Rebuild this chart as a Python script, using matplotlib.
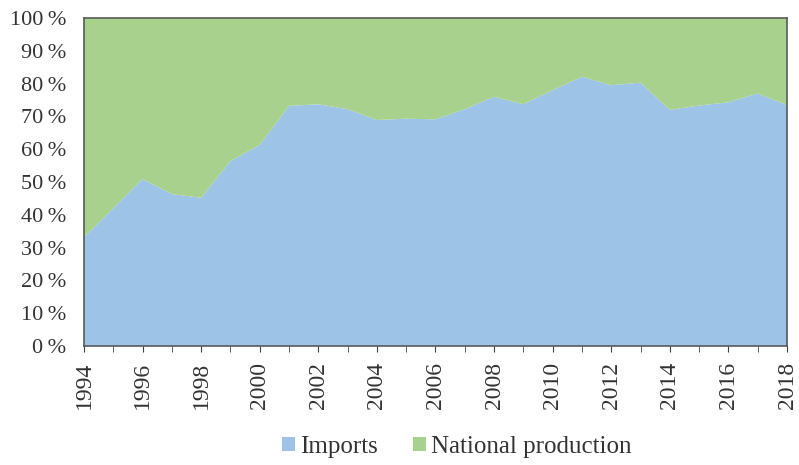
import matplotlib
matplotlib.use("Agg")
import matplotlib.pyplot as plt
import numpy as np

years = list(range(1994, 2019))
imports = [33.1, 42.0, 50.9, 46.3, 45.2, 56.4, 61.3, 73.2, 73.7, 72.2, 68.9, 69.3, 69.1,
           72.2, 76.0, 73.7, 78.0, 82.1, 79.5, 80.3, 72.0, 73.3, 74.3, 77.0, 73.5]
national = [100 - v for v in imports]
labels = ["Imports", "National production"]
colors = ["#9DC3E6", "#A9D18E"]

plt.rcParams['font.family'] = ['Liberation Serif', 'DejaVu Serif']

fig = plt.figure(figsize=(7.99, 4.65), dpi=100)
ax = fig.add_axes([0.1051, 0.2559, 0.8799, 0.7054])

ax.stackplot(years, imports, national, colors=colors, labels=labels, linewidth=0)

ax.set_xlim(1994, 2018)
ax.set_ylim(0, 100)
ax.set_yticks(range(0, 101, 10))
ax.set_yticklabels(["%d\u2009%%" % v for v in range(0, 101, 10)], fontsize=16, color="#333333")
ax.set_xticks(range(1994, 2019, 2))
ax.set_xticks(range(1994, 2019), minor=True)
ax.set_xticklabels([str(y) for y in range(1994, 2019, 2)], rotation=90, fontsize=17, color="#333333")
ax.tick_params(axis='y', length=0, pad=13)
ax.tick_params(axis='x', which='both', direction='out', length=4.5, color="#404040", pad=7)

for s in ax.spines.values():
    s.set_color("#595959")
    s.set_linewidth(1.2)

fig.legend(loc='center', bbox_to_anchor=(457 / 799, 1 - 447 / 465), ncol=2, frameon=False,
           fontsize=18, handlelength=0.52, handleheight=0.52, handletextpad=0.2, columnspacing=1.4,
           labelcolor="#333333")

fig.savefig("out.png", dpi=100)
